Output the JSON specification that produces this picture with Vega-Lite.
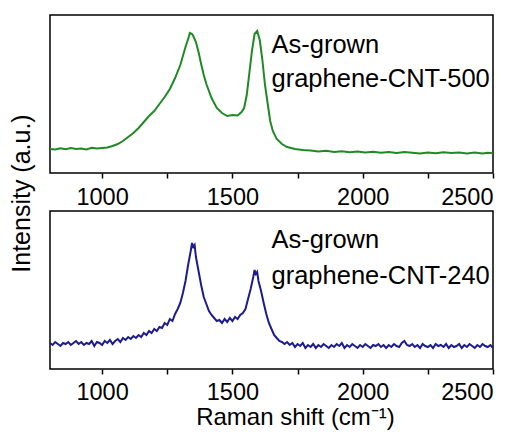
{
  "$schema": "https://vega.github.io/schema/vega-lite/v6.json",
  "padding": {"left": 8, "top": 14, "right": 5, "bottom": 5},
  "background": "white",
  "bounds": "flush",
  "spacing": 38,
  "datasets": {
    "top": [
      {"x": 800, "y": 24}, {"x": 820, "y": 23.5}, {"x": 840, "y": 24.8}, {"x": 860, "y": 23.8}, {"x": 880, "y": 25}, {"x": 900, "y": 24}, {"x": 920, "y": 24.6}, {"x": 940, "y": 23.6}, {"x": 960, "y": 25.2}, {"x": 980, "y": 24.4}, {"x": 1000, "y": 25}, {"x": 1020, "y": 25.6}, {"x": 1040, "y": 27}, {"x": 1060, "y": 29}, {"x": 1080, "y": 32}, {"x": 1100, "y": 36}, {"x": 1120, "y": 40}, {"x": 1140, "y": 45}, {"x": 1160, "y": 51}, {"x": 1180, "y": 57}, {"x": 1200, "y": 62}, {"x": 1220, "y": 69}, {"x": 1240, "y": 76}, {"x": 1260, "y": 84}, {"x": 1280, "y": 95}, {"x": 1300, "y": 108}, {"x": 1320, "y": 126}, {"x": 1330, "y": 134}, {"x": 1337, "y": 140}, {"x": 1345, "y": 139}, {"x": 1350, "y": 137}, {"x": 1360, "y": 131}, {"x": 1370, "y": 121}, {"x": 1380, "y": 109}, {"x": 1390, "y": 98}, {"x": 1400, "y": 89}, {"x": 1420, "y": 75}, {"x": 1440, "y": 65}, {"x": 1460, "y": 60}, {"x": 1480, "y": 57}, {"x": 1500, "y": 58}, {"x": 1520, "y": 57.5}, {"x": 1535, "y": 61}, {"x": 1545, "y": 65}, {"x": 1555, "y": 78}, {"x": 1565, "y": 100}, {"x": 1575, "y": 122}, {"x": 1585, "y": 139}, {"x": 1595, "y": 142}, {"x": 1605, "y": 133}, {"x": 1615, "y": 113}, {"x": 1625, "y": 88}, {"x": 1635, "y": 70}, {"x": 1645, "y": 52}, {"x": 1655, "y": 42}, {"x": 1670, "y": 34}, {"x": 1690, "y": 29}, {"x": 1710, "y": 26}, {"x": 1740, "y": 24}, {"x": 1770, "y": 23}, {"x": 1800, "y": 22.5}, {"x": 1830, "y": 21.5}, {"x": 1860, "y": 22.2}, {"x": 1890, "y": 21}, {"x": 1920, "y": 21.8}, {"x": 1950, "y": 20.8}, {"x": 1980, "y": 21.5}, {"x": 2010, "y": 20.5}, {"x": 2040, "y": 21.2}, {"x": 2070, "y": 20.2}, {"x": 2100, "y": 21}, {"x": 2130, "y": 20}, {"x": 2160, "y": 21}, {"x": 2190, "y": 20.3}, {"x": 2220, "y": 19.6}, {"x": 2250, "y": 20.6}, {"x": 2280, "y": 19.8}, {"x": 2310, "y": 20.7}, {"x": 2340, "y": 19.9}, {"x": 2370, "y": 20.5}, {"x": 2400, "y": 19.6}, {"x": 2430, "y": 20.4}, {"x": 2460, "y": 19.5}, {"x": 2480, "y": 20.3}, {"x": 2500, "y": 19.8}
    ],
    "bottom": [
      {"x": 800, "y": 26}, {"x": 810, "y": 24}, {"x": 820, "y": 27}, {"x": 830, "y": 25}, {"x": 840, "y": 23}, {"x": 850, "y": 26}, {"x": 860, "y": 25}, {"x": 870, "y": 27}, {"x": 880, "y": 24}, {"x": 890, "y": 26}, {"x": 900, "y": 28}, {"x": 910, "y": 25}, {"x": 920, "y": 27}, {"x": 930, "y": 24}, {"x": 940, "y": 26}, {"x": 950, "y": 25}, {"x": 960, "y": 28}, {"x": 970, "y": 23}, {"x": 980, "y": 27}, {"x": 990, "y": 26}, {"x": 1000, "y": 24}, {"x": 1010, "y": 28}, {"x": 1020, "y": 26}, {"x": 1030, "y": 29}, {"x": 1040, "y": 25}, {"x": 1050, "y": 28}, {"x": 1060, "y": 30}, {"x": 1070, "y": 27}, {"x": 1080, "y": 31}, {"x": 1090, "y": 29}, {"x": 1100, "y": 32}, {"x": 1110, "y": 30}, {"x": 1120, "y": 33}, {"x": 1130, "y": 31}, {"x": 1140, "y": 34}, {"x": 1150, "y": 32}, {"x": 1160, "y": 36}, {"x": 1170, "y": 34}, {"x": 1180, "y": 38}, {"x": 1190, "y": 36}, {"x": 1200, "y": 40}, {"x": 1210, "y": 38}, {"x": 1220, "y": 42}, {"x": 1230, "y": 41}, {"x": 1240, "y": 46}, {"x": 1250, "y": 44}, {"x": 1260, "y": 50}, {"x": 1270, "y": 48}, {"x": 1280, "y": 55}, {"x": 1290, "y": 60}, {"x": 1300, "y": 66}, {"x": 1310, "y": 76}, {"x": 1320, "y": 88}, {"x": 1330, "y": 104}, {"x": 1340, "y": 118}, {"x": 1345, "y": 126}, {"x": 1350, "y": 122}, {"x": 1355, "y": 124}, {"x": 1360, "y": 112}, {"x": 1370, "y": 98}, {"x": 1380, "y": 84}, {"x": 1390, "y": 72}, {"x": 1400, "y": 65}, {"x": 1410, "y": 58}, {"x": 1420, "y": 54}, {"x": 1430, "y": 51}, {"x": 1440, "y": 48}, {"x": 1450, "y": 49}, {"x": 1460, "y": 46}, {"x": 1470, "y": 50}, {"x": 1480, "y": 47}, {"x": 1490, "y": 51}, {"x": 1500, "y": 48}, {"x": 1510, "y": 52}, {"x": 1520, "y": 50}, {"x": 1530, "y": 54}, {"x": 1540, "y": 56}, {"x": 1550, "y": 60}, {"x": 1560, "y": 70}, {"x": 1570, "y": 80}, {"x": 1580, "y": 92}, {"x": 1585, "y": 99}, {"x": 1590, "y": 95}, {"x": 1595, "y": 97}, {"x": 1600, "y": 88}, {"x": 1610, "y": 78}, {"x": 1620, "y": 66}, {"x": 1630, "y": 55}, {"x": 1640, "y": 46}, {"x": 1650, "y": 40}, {"x": 1660, "y": 34}, {"x": 1670, "y": 31}, {"x": 1680, "y": 28}, {"x": 1690, "y": 27}, {"x": 1700, "y": 25}, {"x": 1710, "y": 27}, {"x": 1720, "y": 24}, {"x": 1730, "y": 26}, {"x": 1740, "y": 22}, {"x": 1750, "y": 25}, {"x": 1760, "y": 23}, {"x": 1770, "y": 26}, {"x": 1780, "y": 21}, {"x": 1790, "y": 24}, {"x": 1800, "y": 22}, {"x": 1810, "y": 25}, {"x": 1820, "y": 21}, {"x": 1830, "y": 24}, {"x": 1840, "y": 22}, {"x": 1850, "y": 25}, {"x": 1860, "y": 23}, {"x": 1870, "y": 21}, {"x": 1880, "y": 24}, {"x": 1890, "y": 22}, {"x": 1900, "y": 25}, {"x": 1910, "y": 23}, {"x": 1920, "y": 26}, {"x": 1930, "y": 21}, {"x": 1940, "y": 24}, {"x": 1950, "y": 22}, {"x": 1960, "y": 25}, {"x": 1970, "y": 23}, {"x": 1980, "y": 21}, {"x": 1990, "y": 24}, {"x": 2000, "y": 22}, {"x": 2010, "y": 25}, {"x": 2020, "y": 23}, {"x": 2030, "y": 21}, {"x": 2040, "y": 24}, {"x": 2050, "y": 23}, {"x": 2060, "y": 25}, {"x": 2070, "y": 22}, {"x": 2080, "y": 24}, {"x": 2090, "y": 21}, {"x": 2100, "y": 24}, {"x": 2110, "y": 22}, {"x": 2120, "y": 25}, {"x": 2130, "y": 23}, {"x": 2140, "y": 22}, {"x": 2150, "y": 26}, {"x": 2160, "y": 28}, {"x": 2170, "y": 24}, {"x": 2180, "y": 23}, {"x": 2190, "y": 25}, {"x": 2200, "y": 22}, {"x": 2210, "y": 24}, {"x": 2220, "y": 21}, {"x": 2230, "y": 25}, {"x": 2240, "y": 23}, {"x": 2250, "y": 22}, {"x": 2260, "y": 24}, {"x": 2270, "y": 21}, {"x": 2280, "y": 25}, {"x": 2290, "y": 23}, {"x": 2300, "y": 24}, {"x": 2310, "y": 22}, {"x": 2320, "y": 25}, {"x": 2330, "y": 21}, {"x": 2340, "y": 24}, {"x": 2350, "y": 22}, {"x": 2360, "y": 23}, {"x": 2370, "y": 25}, {"x": 2380, "y": 21}, {"x": 2390, "y": 24}, {"x": 2400, "y": 22}, {"x": 2410, "y": 25}, {"x": 2420, "y": 23}, {"x": 2430, "y": 21}, {"x": 2440, "y": 24}, {"x": 2450, "y": 22}, {"x": 2460, "y": 25}, {"x": 2470, "y": 23}, {"x": 2480, "y": 22}, {"x": 2490, "y": 24}, {"x": 2500, "y": 21}
    ],
    "labelsTop": [
      {"x": 1650, "y": 120, "label": "As-grown"},
      {"x": 1650, "y": 86, "label": "graphene-CNT-500"}
    ],
    "labelsBottom": [
      {"x": 1650, "y": 121, "label": "As-grown"},
      {"x": 1650, "y": 85, "label": "graphene-CNT-240"}
    ]
  },
  "vconcat": [
    {
      "width": 443,
      "height": 158,
      "layer": [
        {
          "data": {"name": "top"},
          "mark": {"type": "line", "color": "#1f8a24", "strokeWidth": 2, "interpolate": "linear"},
          "encoding": {
            "x": {"field": "x", "type": "quantitative", "scale": {"domain": [800, 2500], "nice": false, "zero": false},
              "axis": {"title": null, "values": [1000, 1250, 1500, 1750, 2000, 2250, 2500],
                "labelExpr": "datum.value % 500 === 0 ? format(datum.value, 'd') : ''",
                "grid": false, "domain": false, "ticks": true, "tickColor": "black", "tickWidth": 1.5, "tickSize": 5,
                "labelPadding": 7, "labelFont": "Liberation Sans", "labelFontSize": 23.5, "labelColor": "black"}},
            "y": {"field": "y", "type": "quantitative", "scale": {"domain": [0, 158], "nice": false},
              "axis": {"title": "Intensity (a.u.)", "labels": false, "ticks": false, "domain": false, "grid": false,
                "titleFont": "Liberation Sans", "titleFontSize": 25, "titleFontWeight": "normal", "titleColor": "black",
                "titleAngle": 270, "titleAlign": "center", "titleBaseline": "middle", "titleX": -29, "titleY": 178}}
          }
        },
        {
          "data": {"name": "labelsTop"},
          "mark": {"type": "text", "align": "left", "baseline": "alphabetic", "font": "Liberation Sans", "fontSize": 25.5, "color": "black"},
          "encoding": {
            "x": {"field": "x", "type": "quantitative"},
            "y": {"field": "y", "type": "quantitative"},
            "text": {"field": "label"}
          }
        }
      ]
    },
    {
      "width": 443,
      "height": 158,
      "layer": [
        {
          "data": {"name": "bottom"},
          "mark": {"type": "line", "color": "#1c1c8f", "strokeWidth": 2, "interpolate": "linear"},
          "encoding": {
            "x": {"field": "x", "type": "quantitative", "scale": {"domain": [800, 2500], "nice": false, "zero": false},
              "axis": {"title": "Raman shift (cm⁻¹)", "values": [1000, 1250, 1500, 1750, 2000, 2250, 2500],
                "labelExpr": "datum.value % 500 === 0 ? format(datum.value, 'd') : ''",
                "grid": false, "domain": false, "ticks": true, "tickColor": "black", "tickWidth": 1.5, "tickSize": 5,
                "labelPadding": 6, "labelFont": "Liberation Sans", "labelFontSize": 23.5, "labelColor": "black",
                "titleFont": "Liberation Sans", "titleFontSize": 24, "titleFontWeight": "normal", "titleColor": "black",
                "titlePadding": 2, "titleX": 245, "titleAlign": "center"}},
            "y": {"field": "y", "type": "quantitative", "scale": {"domain": [0, 158], "nice": false},
              "axis": null}
          }
        },
        {
          "data": {"name": "labelsBottom"},
          "mark": {"type": "text", "align": "left", "baseline": "alphabetic", "font": "Liberation Sans", "fontSize": 25.5, "color": "black"},
          "encoding": {
            "x": {"field": "x", "type": "quantitative"},
            "y": {"field": "y", "type": "quantitative"},
            "text": {"field": "label"}
          }
        }
      ]
    }
  ],
  "config": {
    "view": {"stroke": "black", "strokeWidth": 1.5}
  }
}
